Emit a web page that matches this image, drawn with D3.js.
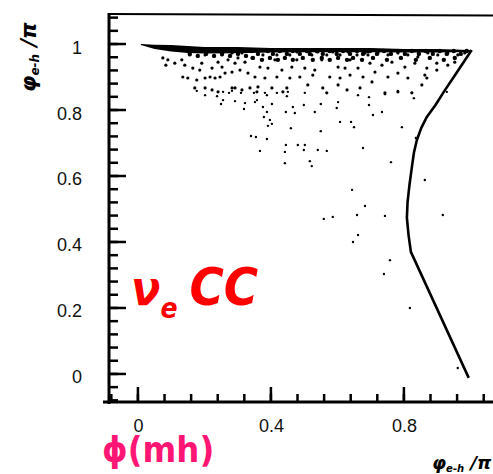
<!DOCTYPE html>
<html>
<head>
<meta charset="utf-8">
<script src="https://cdn.jsdelivr.net/npm/d3@7"></script>
<style>
	body { margin: 0; background: #fff; }
	svg { display: block; }
</style>
</head>
<body>
<svg id="chart" width="493" height="474"></svg>
<script>

// Tick values and labels
var yTicks = [0, 0.2, 0.4, 0.6, 0.8, 1];
var yTickLabels = ["0", "0.2", "0.4", "0.6", "0.8", "1"];
var xTicks = [0, 0.4, 0.8];
var xTickLabels = ["0", "0.4", "0.8"];

// Dense core of the band near phi = pi
var bandX      = [0.009, 0.05, 0.10, 0.15, 0.20, 0.30, 0.40, 0.50, 0.60, 0.70, 0.80, 0.90, 1.00];
var bandTop    = [1.000, 0.998, 0.997, 0.994, 0.991, 0.991, 0.988, 0.988, 0.988, 0.988, 0.985, 0.985, 0.982];
var bandBottom = [0.997, 0.985, 0.977, 0.973, 0.971, 0.972, 0.974, 0.975, 0.975, 0.975, 0.974, 0.974, 0.976];

// Blobs packed along the band
var bandBlobs = [
	[0.156,0.970],[0.180,0.964],[0.205,0.970],[0.229,0.964],[0.253,0.970],[0.277,0.964],[0.301,0.970],[0.325,0.964],
	[0.343,0.979],[0.361,0.970],[0.391,0.979],[0.406,0.970],[0.427,0.979],[0.448,0.970],[0.466,0.979],[0.487,0.970],
	[0.508,0.979],[0.517,0.970],[0.538,0.979],[0.556,0.970],[0.577,0.979],[0.598,0.970],[0.617,0.979],[0.638,0.970],
	[0.659,0.979],[0.677,0.970],[0.692,0.979],
	[0.346,0.958],[0.373,0.952],[0.397,0.958],[0.421,0.952],[0.442,0.958],[0.466,0.952],[0.496,0.958],[0.526,0.952],
	[0.553,0.958],[0.577,0.952],[0.602,0.958],[0.629,0.952],[0.647,0.958],[0.674,0.952],
	[0.698,0.979],[0.719,0.970],[0.740,0.979],[0.761,0.970],[0.782,0.979],[0.803,0.970],[0.824,0.979],[0.845,0.970],
	[0.866,0.979],[0.887,0.970],[0.908,0.979],[0.929,0.970],[0.950,0.979],[0.971,0.970],[0.989,0.979],
	[0.707,0.958],[0.749,0.952],[0.791,0.958],[0.836,0.952],[0.878,0.958],[0.920,0.952],[0.953,0.958]
];

// Events just below the band
var bandDots = [
	[0.075,0.958],[0.090,0.952],[0.084,0.936],[0.111,0.942],[0.132,0.952],[0.141,0.936],[0.165,0.927],
	[0.135,0.900],[0.150,0.897],[0.177,0.891],[0.202,0.897],[0.217,0.900],[0.232,0.897],[0.247,0.900],
	[0.262,0.912],[0.283,0.915],[0.307,0.921],[0.331,0.912],[0.171,0.867],[0.202,0.867],[0.223,0.861],
	[0.241,0.855],[0.283,0.867],[0.292,0.867],[0.313,0.861],[0.337,0.867],[0.186,0.921],[0.223,0.927],
	[0.253,0.930],[0.292,0.942],[0.322,0.945],[0.192,0.942],[0.241,0.945],[0.271,0.952],[0.301,0.958],
	[0.343,0.958],[0.156,0.967],[0.202,0.967],[0.253,0.967],[0.283,0.973],[0.313,0.973],
	[0.352,0.982],[0.376,0.967],[0.397,0.982],[0.418,0.967],[0.436,0.982],[0.457,0.967],[0.478,0.976],
	[0.496,0.982],[0.523,0.967],[0.541,0.976],[0.568,0.967],[0.586,0.976],[0.608,0.967],[0.632,0.976],
	[0.659,0.967],[0.683,0.973],[0.412,0.952],[0.478,0.952],[0.553,0.952],[0.638,0.952],
	[0.367,0.930],[0.391,0.927],[0.433,0.921],[0.463,0.930],[0.502,0.927],[0.532,0.921],[0.602,0.930],
	[0.623,0.927],[0.662,0.927],[0.352,0.900],[0.382,0.897],[0.418,0.900],[0.457,0.897],[0.487,0.900],
	[0.526,0.906],[0.577,0.900],[0.608,0.897],[0.638,0.906],[0.677,0.900],[0.361,0.870],[0.403,0.867],
	[0.448,0.867],[0.511,0.876],[0.556,0.867],[0.602,0.876],[0.629,0.861],[0.668,0.867],[0.358,0.855],
	[0.436,0.855],[0.568,0.852],
	[0.692,0.967],[0.722,0.973],[0.752,0.967],[0.782,0.973],[0.812,0.967],[0.842,0.961],[0.872,0.973],
	[0.902,0.967],[0.932,0.973],[0.962,0.967],[0.983,0.973],[0.698,0.942],[0.734,0.936],[0.764,0.945],
	[0.803,0.930],[0.833,0.942],[0.869,0.927],[0.899,0.942],[0.932,0.936],[0.953,0.945],[0.713,0.915],
	[0.752,0.900],[0.782,0.912],[0.812,0.897],[0.863,0.906],[0.899,0.921],[0.704,0.885],[0.743,0.852],
	[0.782,0.855],[0.824,0.852],[0.854,0.876],[0.869,0.897]
];

// Sparse events further down
var sparseDots = [
	[0.177,0.858],[0.202,0.845],[0.238,0.842],[0.256,0.855],[0.283,0.858],[0.274,0.852],[0.310,0.852],
	[0.256,0.830],[0.250,0.818],[0.292,0.827],[0.322,0.821],[0.319,0.803],[0.352,0.824],[0.358,0.830],
	[0.349,0.852],[0.382,0.852],[0.388,0.845],[0.418,0.852],[0.451,0.855],[0.448,0.842],[0.403,0.818],
	[0.376,0.809],[0.388,0.794],[0.379,0.779],[0.397,0.770],[0.403,0.758],[0.391,0.752],[0.445,0.794],
	[0.466,0.809],[0.472,0.791],[0.499,0.815],[0.460,0.745],[0.340,0.721],[0.355,0.718],[0.388,0.712],
	[0.445,0.694],[0.481,0.694],[0.502,0.694],[0.499,0.679],[0.442,0.673],[0.367,0.676],[0.442,0.639],
	[0.502,0.852],[0.550,0.818],[0.532,0.794],[0.602,0.824],[0.598,0.806],[0.662,0.845],[0.695,0.839],
	[0.695,0.815],[0.743,0.848],[0.782,0.858],[0.824,0.852],[0.830,0.836],[0.707,0.785],[0.734,0.794],
	[0.608,0.764],[0.641,0.764],[0.650,0.748],[0.550,0.736],[0.794,0.748],[0.541,0.679],[0.568,0.676],
	[0.677,0.685],[0.517,0.645],[0.523,0.630],[0.761,0.642],[0.836,0.715],[0.863,0.588],[0.929,0.855],
	[0.644,0.558],[0.683,0.509],[0.559,0.470],[0.586,0.476],[0.659,0.482],[0.743,0.479],[0.917,0.482],
	[0.662,0.421],[0.647,0.400],[0.758,0.345],[0.740,0.303],[0.818,0.200],[0.962,0.018]
];

// Kinematic boundary curve
var boundary = [
	[1.004,0.982],[0.960,0.915],[0.920,0.855],[0.895,0.815],[0.869,0.779],[0.852,0.745],[0.839,0.709],
	[0.830,0.670],[0.824,0.627],[0.817,0.575],[0.811,0.521],[0.809,0.473],[0.814,0.421],[0.821,0.370],
	[0.995,-0.012]
];

var svg = d3.select("#chart");

var x = d3.scaleLinear().domain([-0.087, 1.074]).range([109, 495]);
var y = d3.scaleLinear().domain([-0.085, 1.091]).range([402, 14]);

var minorY = d3.range(-2, 28).map(i => i * 0.04);
var minorX = d3.range(-1, 14).map(i => i * 0.08);

var axisX0 = x.range()[0];
var axisY0 = y.range()[0];

// tick marks, pointing into the plot
function drawTicks(cls, values, len, vertical){
	svg.append("g")
		.attr("class", cls)
		.selectAll("line")
		.data(values)
		.enter()
		.append("line")
		.attr("x1", d => vertical ? axisX0 : x(d))
		.attr("x2", d => vertical ? axisX0 + len : x(d))
		.attr("y1", d => vertical ? y(d) : axisY0)
		.attr("y2", d => vertical ? y(d) : axisY0 - len)
		.style("stroke", "#000")
		.style("stroke-width", 2.5);
}
drawTicks("minorY", minorY, 9, true);
drawTicks("majorY", yTicks, 17, true);
drawTicks("minorX", minorX, 8, false);
drawTicks("majorX", xTicks, 15, false);

// tick labels
var yAxis = svg.append("g")
	.attr("transform", "translate(" + axisX0 + ",0)")
	.call(d3.axisLeft(y).tickValues(yTicks).tickSize(0).tickPadding(27)
		.tickFormat((d, i) => yTickLabels[i]));

var xAxis = svg.append("g")
	.attr("transform", "translate(0," + axisY0 + ")")
	.call(d3.axisBottom(x).tickValues(xTicks).tickSize(0).tickPadding(17)
		.tickFormat((d, i) => xTickLabels[i]));

svg.selectAll(".domain").remove();
svg.selectAll(".tick text")
	.style("font-family", "'Liberation Sans', Arial, sans-serif")
	.style("font-size", "18px")
	.style("fill", "#111");
yAxis.selectAll(".tick text").attr("dy", "0.5em");

// frame
svg.append("line").attr("x1", axisX0).attr("x2", axisX0).attr("y1", 13).attr("y2", 404)
	.style("stroke", "#000").style("stroke-width", 3);
svg.append("line").attr("x1", 103).attr("x2", 493).attr("y1", axisY0).attr("y2", axisY0)
	.style("stroke", "#000").style("stroke-width", 3);
svg.append("line").attr("x1", axisX0).attr("x2", 493).attr("y1", 14).attr("y2", 15.5)
	.style("stroke", "#000").style("stroke-width", 2);

// dense band
var band = bandX.map((d, i) => ({x: d, hi: bandTop[i], lo: bandBottom[i]}));
svg.append("path")
	.datum(band)
	.attr("d", d3.area().x(d => x(d.x)).y0(d => y(d.lo)).y1(d => y(d.hi)))
	.style("fill", "#000");

svg.append("g").selectAll("circle")
	.data(bandBlobs)
	.enter()
	.append("circle")
	.attr("cx", d => x(d[0]))
	.attr("cy", d => y(d[1]))
	.attr("r", 2.2)
	.style("fill", "#000");

svg.append("g").selectAll("circle")
	.data(bandDots)
	.enter()
	.append("circle")
	.attr("cx", d => x(d[0]))
	.attr("cy", d => y(d[1]))
	.attr("r", 1.6)
	.style("fill", "#000");

svg.append("g").selectAll("circle")
	.data(sparseDots)
	.enter()
	.append("circle")
	.attr("cx", d => x(d[0]))
	.attr("cy", d => y(d[1]))
	.attr("r", 1.2)
	.style("fill", "#000");

// boundary line
svg.append("path")
	.datum(boundary)
	.attr("d", d3.line().x(d => x(d[0])).y(d => y(d[1])))
	.style("fill", "none")
	.style("stroke", "#000")
	.style("stroke-width", 2.6)
	.style("stroke-linejoin", "round");

// axis titles
svg.append("text")
	.attr("transform", "translate(36,92) rotate(-90)")
	.style("font-family", "'DejaVu Sans', sans-serif")
	.style("font-weight", "bold")
	.style("font-style", "italic")
	.style("font-size", "21px")
	.html('φ<tspan font-size="12px" dy="3">e-h</tspan><tspan dy="-3"> /π</tspan>');

svg.append("text")
	.attr("x", 432)
	.attr("y", 469)
	.style("font-family", "'DejaVu Sans', sans-serif")
	.style("font-weight", "bold")
	.style("font-style", "italic")
	.style("font-size", "18px")
	.html('φ<tspan font-size="10px" dy="3">e-h</tspan><tspan dy="-3"> /π</tspan>');

// annotations
svg.append("text")
	.attr("x", 131)
	.attr("y", 305)
	.style("font-family", "'DejaVu Sans Condensed', 'DejaVu Sans', sans-serif")
	.style("font-weight", "bold")
	.style("font-style", "italic")
	.style("font-size", "48px")
	.style("fill", "#ff0000")
	.html('ν<tspan font-size="28px" dy="13">e</tspan><tspan dx="12" dy="-13" font-size="52px">CC</tspan>');

svg.append("text")
	.attr("x", 102)
	.attr("y", 462)
	.style("font-family", "'DejaVu Sans Condensed', 'DejaVu Sans', sans-serif")
	.style("font-weight", "bold")
	.style("font-size", "36px")
	.style("fill", "#ff1675")
	.text("ϕ(mh)");

</script>
</body>
</html>
